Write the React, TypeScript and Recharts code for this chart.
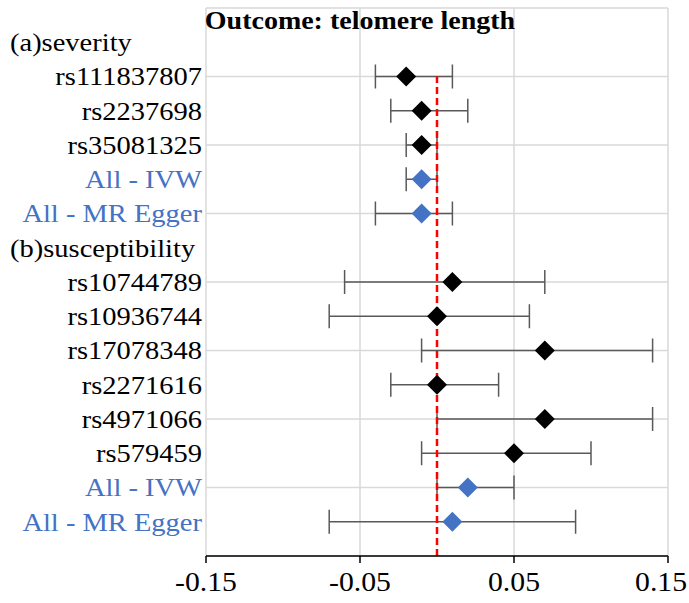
import React from 'react';
import {
  ComposedChart,
  Scatter,
  ErrorBar,
  XAxis,
  YAxis,
  CartesianGrid,
  ReferenceLine,
} from 'recharts';

// Rows from top to bottom; headers carry no estimate.
const labels = [
  '(a)severity',
  'rs111837807',
  'rs2237698',
  'rs35081325',
  'All - IVW',
  'All - MR Egger',
  '(b)susceptibility',
  'rs10744789',
  'rs10936744',
  'rs17078348',
  'rs2271616',
  'rs4971066',
  'rs579459',
  'All - IVW',
  'All - MR Egger',
];
const estimates = [null, -0.02, -0.01, -0.01, -0.01, -0.01, null, 0.01, 0, 0.07, 0, 0.07, 0.05, 0.02, 0.01];
const lower = [null, -0.04, -0.03, -0.02, -0.02, -0.04, null, -0.06, -0.07, -0.01, -0.03, 0, -0.01, 0, -0.07];
const upper = [null, 0.01, 0.02, 0, 0, 0.01, null, 0.07, 0.06, 0.14, 0.04, 0.14, 0.1, 0.05, 0.09];
const pooled = [false, false, false, false, true, true, false, false, false, false, false, false, false, true, true];
const headers = [true, false, false, false, false, false, true, false, false, false, false, false, false, false, false];

const xTicks = [-0.15, -0.05, 0.05, 0.15];
const gridRows = [0, 2, 4, 6, 8, 10, 12, 14, 16];

const BLUE = '#4472C4';
const n = labels.length;

const points = labels
  .map((label, i) => ({
    y: n - i,
    x: estimates[i],
    err: estimates[i] == null ? [0, 0] : [estimates[i]! - lower[i]!, upper[i]! - estimates[i]!],
    color: pooled[i] ? BLUE : '#000000',
  }))
  .filter((p) => p.x != null);

const FONT = '"Liberation Serif", "Times New Roman", serif';

const RowTick = (props: any) => {
  const { x, y, payload } = props;
  const i = n - payload.value;
  if (i < 0 || i >= n) return null;
  const color = pooled[i] ? BLUE : '#000000';
  if (headers[i]) {
    return (
      <g transform={`translate(10,${y})`}>
        <text transform="scale(1.14,1)" textAnchor="start" dy="0.35em" fontSize={25} fontFamily={FONT} fill={color}>
          {labels[i]}
        </text>
      </g>
    );
  }
  return (
    <g transform={`translate(${x},${y})`}>
      <text transform="scale(1.14,1)" textAnchor="end" dy="0.35em" fontSize={25} fontFamily={FONT} fill={color}>
        {labels[i]}
      </text>
    </g>
  );
};

const XTick = (props: any) => {
  const { x, y, payload } = props;
  // keep the last label inside the picture, as the original does
  const isLast = payload.value === xTicks[xTicks.length - 1];
  return (
    <g transform={`translate(${isLast ? 687 : x},${y})`}>
      <text
        transform="scale(1.1,1)"
        textAnchor={isLast ? 'end' : 'middle'}
        dy="0.95em"
        fontSize={27}
        fontFamily={FONT}
        fill="#000"
      >
        {payload.value.toFixed(2)}
      </text>
    </g>
  );
};

const Diamond = (props: any) => {
  const { cx, cy, payload } = props;
  const r = 10;
  return (
    <polygon
      points={`${cx},${cy - r} ${cx + r},${cy} ${cx},${cy + r} ${cx - r},${cy}`}
      fill={payload.color}
    />
  );
};

const App: React.FC = () => {
  return (
    <div style={{ position: 'absolute', left: 0, top: 0, width: 689, height: 603, background: '#fff' }}>
      <ComposedChart width={689} height={603} margin={{ top: 8, right: 21, left: 6, bottom: 5 }}>
        <CartesianGrid
          stroke="#d9d9d9"
          strokeWidth={1.5}
          horizontalValues={gridRows}
          verticalValues={xTicks}
        />
        <XAxis
          type="number"
          dataKey="x"
          domain={[-0.15, 0.15]}
          ticks={xTicks}
          interval={0}
          axisLine={{ stroke: '#000', strokeWidth: 1.5 }}
          tickLine={{ stroke: '#000', strokeWidth: 1.5 }}
          tickSize={7}
          tick={<XTick />}
          height={42}
        />
        <YAxis
          type="number"
          dataKey="y"
          domain={[0, 16]}
          ticks={labels.map((_, i) => n - i)}
          interval={0}
          axisLine={false}
          tickLine={false}
          tickSize={0}
          tickMargin={4}
          tick={<RowTick />}
          width={200}
        />
        <Scatter data={points} shape={<Diamond />} isAnimationActive={false}>
          <ErrorBar dataKey="err" direction="x" width={12} stroke="#595959" strokeWidth={1.5} />
        </Scatter>
        <ReferenceLine
          segment={[{ x: 0, y: 0 }, { x: 0, y: 14 }]}
          stroke="#ff0000"
          strokeWidth={2.5}
          strokeDasharray="7 4"
        />
        <text x={360} y={23} textAnchor="middle" dominantBaseline="middle" fontFamily={FONT} fontWeight="bold" fontSize={25} transform="translate(360,0) scale(1.12,1) translate(-360,0)">
          Outcome: telomere length
        </text>
      </ComposedChart>
    </div>
  );
};

export default App;
